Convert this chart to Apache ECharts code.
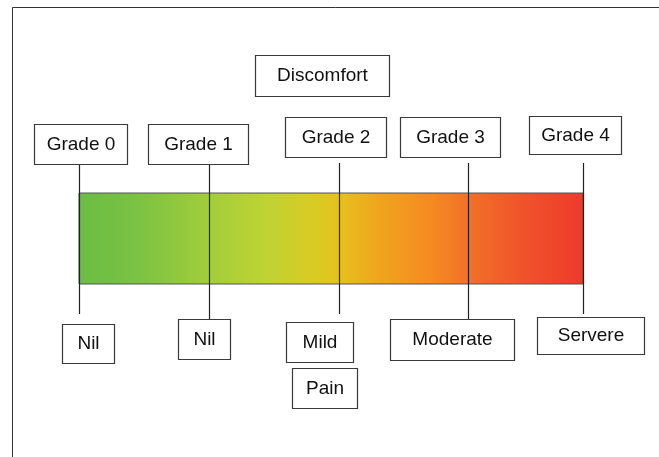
<!DOCTYPE html>
<html>
<head>
<meta charset="utf-8">
<script src="https://cdn.jsdelivr.net/npm/echarts@6/dist/echarts.min.js"></script>
<style>
html,body{margin:0;padding:0;background:#fff;}
#chart{width:659px;height:457px;}
</style>
</head>
<body>
<div id="chart"></div>
<script>
// ---- data ----
const gradeNames = ['Grade 0', 'Grade 1', 'Grade 2', 'Grade 3', 'Grade 4'];
const gradePositions = [0, 25.8, 51.6, 77.2, 100]; // position along the scale (0-100)
const severityLabels = ['Nil', 'Nil', 'Mild', 'Moderate', 'Servere'];
const topNote = 'Discomfort';
const bottomNote = 'Pain';
const scaleRange = [0, 100];
const gradientStops = [
  [0.00, '#6bbd45'], [0.10, '#78c143'], [0.26, '#a2cd3a'], [0.37, '#bfd334'],
  [0.46, '#d8cc24'], [0.52, '#e6c01f'], [0.60, '#f0a31e'], [0.70, '#f58a22'],
  [0.77, '#f27127'], [0.88, '#f0532b'], [1.00, '#ee3a2c']
];

// ---- layout (pixels) ----
const gradeBox = [ // [dx from line, top, width, height]
  [-45, 124, 93, 40], [-61, 124, 100, 40], [-54, 117, 101, 40], [-68, 117, 100, 40], [-54, 116, 92, 38]
];
const sevBox = [
  [-17, 324, 52, 39], [-31, 319, 52, 40], [-53, 322, 67, 40], [-78, 319, 124, 41], [-46, 317, 107, 37]
];
const lineTop = 163;
const lineBottom = [314, 319, 314, 319, 314];
const noteTopBox = [-84, 55, 134, 41];   // relative to Grade 2 line
const noteBottomBox = [-47, 368, 65, 40]; // relative to Grade 2 line
const FONT = '19px "Liberation Sans", Arial, sans-serif';

function box(x, y, w, h, text) {
  return [
    { type: 'rect', shape: { x: x + 0.5, y: y + 0.5, width: w, height: h },
      style: { fill: '#fff', stroke: '#3a3a3a', lineWidth: 1.2 } },
    { type: 'text', style: { x: x + w / 2 + 0.5, y: y + h / 2 + 0.5, text: text, font: FONT,
      fill: '#111', align: 'center', verticalAlign: 'middle' } }
  ];
}

const chart = echarts.init(document.getElementById('chart'), null, { renderer: 'canvas' });
chart.setOption({
  animation: false,
  backgroundColor: '#fff',
  grid: { left: 79, right: 76, top: 193, bottom: 173 },
  xAxis: { type: 'value', min: scaleRange[0], max: scaleRange[1], show: false },
  yAxis: { type: 'value', min: 0, max: 1, show: false },
  graphic: [
    { type: 'line', shape: { x1: 12.5, y1: 7.5, x2: 659, y2: 7.5 }, style: { stroke: '#333', lineWidth: 1 } },
    { type: 'line', shape: { x1: 12.5, y1: 7.5, x2: 12.5, y2: 457 }, style: { stroke: '#333', lineWidth: 1 } }
  ],
  series: [
    {
      type: 'custom',
      data: [[scaleRange[0], scaleRange[1]]],
      renderItem: function (params, api) {
        const p0 = api.coord([api.value(0), 1]);
        const p1 = api.coord([api.value(1), 0]);
        return {
          type: 'rect',
          shape: { x: p0[0], y: p0[1], width: p1[0] - p0[0], height: p1[1] - p0[1] },
          style: {
            fill: new echarts.graphic.LinearGradient(0, 0, 1, 0,
              gradientStops.map(s => ({ offset: s[0], color: s[1] }))),
            stroke: '#555', lineWidth: 1
          }
        };
      },
      z: 1
    },
    {
      type: 'custom',
      data: gradePositions.map((p, i) => [p, i]),
      renderItem: function (params, api) {
        const i = api.value(1);
        const x = Math.round(api.coord([api.value(0), 0])[0]);
        const g = gradeBox[i], s = sevBox[i];
        let children = [
          { type: 'line', shape: { x1: x + 0.5, y1: lineTop, x2: x + 0.5, y2: lineBottom[i] },
            style: { stroke: '#222', lineWidth: 1.2 } }
        ];
        children = children.concat(box(x + g[0], g[1], g[2], g[3], gradeNames[i]));
        children = children.concat(box(x + s[0], s[1], s[2], s[3], severityLabels[i]));
        if (i === 2) {
          children = children.concat(box(x + noteTopBox[0], noteTopBox[1], noteTopBox[2], noteTopBox[3], topNote));
          children = children.concat(box(x + noteBottomBox[0], noteBottomBox[1], noteBottomBox[2], noteBottomBox[3], bottomNote));
        }
        return { type: 'group', children: children };
      },
      z: 2
    }
  ]
});
</script>
</body>
</html>
